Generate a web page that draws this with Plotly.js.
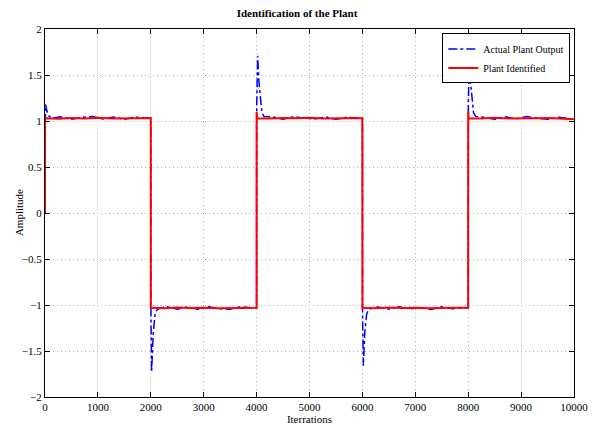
<!DOCTYPE html>
<html>
<head>
<meta charset="utf-8">
<script src="https://cdn.plot.ly/plotly-3.0.1.min.js"></script>
<style>html,body{margin:0;padding:0;background:#fff;}#chart{width:594px;height:429px;}</style>
</head>
<body>
<div id="chart"></div>
<script>
// Actual Plant Output (blue dash-dot)
const actualX = [0,10,40,80,130,300,500,700,900,1100,1300,1500,1700,1900,2000,
  2003,2015,2045,2080,2110,2150,2300,2500,2700,2900,3100,3300,3500,3700,3900,4000,
  4003,4020,4045,4068,4100,4140,4300,4500,4700,4900,5100,5300,5500,5700,5900,6000,
  6003,6018,6045,6080,6110,6150,6300,6500,6700,6900,7100,7300,7500,7700,7900,8000,
  8003,8020,8045,8068,8100,8140,8300,8500,8700,8900,9100,9300,9500,9700,9900,10000];
const actualY = [0,1.18,1.1,1.05,1.03,1.045,1.02,1.04,1.048,1.022,1.043,1.018,1.042,1.03,1.03,
  -1.1,-1.73,-1.32,-1.1,-1.06,-1.04,-1.018,-1.045,-1.022,-1.048,-1.018,-1.04,-1.045,-1.018,-1.03,-1.03,
  1.2,1.71,1.42,1.25,1.09,1.05,1.045,1.018,1.048,1.03,1.022,1.044,1.018,1.04,1.03,1.03,
  -1.1,-1.66,-1.3,-1.1,-1.06,-1.04,-1.022,-1.045,-1.018,-1.042,-1.03,-1.048,-1.018,-1.04,-1.03,-1.03,
  1.2,1.68,1.42,1.25,1.09,1.05,1.04,1.018,1.045,1.022,1.048,1.03,1.018,1.04,1.022,1.02];

// Plant Identified (red solid)
const identX = [0,0,250,500,750,1000,1250,1500,1750,2000,
  2000,2250,2500,2750,3000,3250,3500,3750,4000,
  4000,4010,4250,4500,4750,5000,5250,5500,5750,6000,
  6000,6250,6500,6750,7000,7250,7500,7750,8000,
  8000,8010,8250,8500,8750,9000,9250,9500,9750,10000];
const identY = [0,1.03,1.025,1.032,1.028,1.034,1.027,1.031,1.029,1.03,
  -1.03,-1.035,-1.028,-1.033,-1.029,-1.036,-1.03,-1.032,-1.03,
  1.1,1.03,1.027,1.033,1.029,1.035,1.026,1.031,1.03,1.03,
  -1.03,-1.034,-1.027,-1.032,-1.029,-1.035,-1.03,-1.031,-1.03,
  1.1,1.03,1.028,1.034,1.027,1.032,1.029,1.033,1.026,1.02];

const seriesNames = ["Actual Plant Output", "Plant Identified"];
const xTicks = [0,1000,2000,3000,4000,5000,6000,7000,8000,9000,10000];
const yTicks = [-2,-1.5,-1,-0.5,0,0.5,1,1.5,2];
const yTickText = ["\u22122","\u22121.5","\u22121","\u22120.5","0","0.5","1","1.5","2"];

const font = "Liberation Serif, Times New Roman, serif";

const traces = [
  {x: actualX, y: actualY, type: "scatter", mode: "lines", name: seriesNames[0],
   line: {color: "#0000ff", width: 1.5, dash: "dashdot"}},
  {x: identX, y: identY, type: "scatter", mode: "lines", name: seriesNames[1],
   line: {color: "#ff0000", width: 2}}
];

const axisCommon = {
  showline: true, linecolor: "#000", linewidth: 1, mirror: "ticks",
  ticks: "inside", ticklen: 5, tickcolor: "#000", tickwidth: 1,
  showgrid: true, gridcolor: "#b4b4b4", griddash: "1px,3px", gridwidth: 1,
  zeroline: false, tickfont: {family: font, size: 11, color: "#000"}
};

const layout = {
  width: 594, height: 429,
  margin: {l: 45, r: 20, t: 29, b: 32},
  paper_bgcolor: "#fff", plot_bgcolor: "#fff",
  title: {text: "<b>Identification of the Plant</b>", font: {family: font, size: 11, color: "#000"},
          x: 0.5, xanchor: "center", y: 0.97, yanchor: "middle", yref: "container"},
  xaxis: Object.assign({}, axisCommon, {
    range: [0, 10000], tickvals: xTicks, ticktext: xTicks.map(String),
    title: {text: "Iterrations", font: {family: font, size: 11, color: "#000"}, standoff: 2}
  }),
  yaxis: Object.assign({}, axisCommon, {
    range: [-2, 2], tickvals: yTicks, ticktext: yTickText,
    title: {text: ""}
  }),
  annotations: [{text: "Amplitude", xref: "paper", yref: "paper", x: -0.049, y: 0.5,
                 xanchor: "center", yanchor: "middle", textangle: -90, showarrow: false,
                 font: {family: font, size: 11, color: "#000"}}],
  showlegend: true,
  legend: {x: 0.993, xanchor: "right", y: 0.988, yanchor: "top", bgcolor: "#fff",
           bordercolor: "#000", borderwidth: 1,
           font: {family: font, size: 10, color: "#000"},
           tracegroupgap: 0, itemwidth: 30}
};

Plotly.newPlot("chart", traces, layout, {displayModeBar: false, staticPlot: true});
</script>
</body>
</html>
